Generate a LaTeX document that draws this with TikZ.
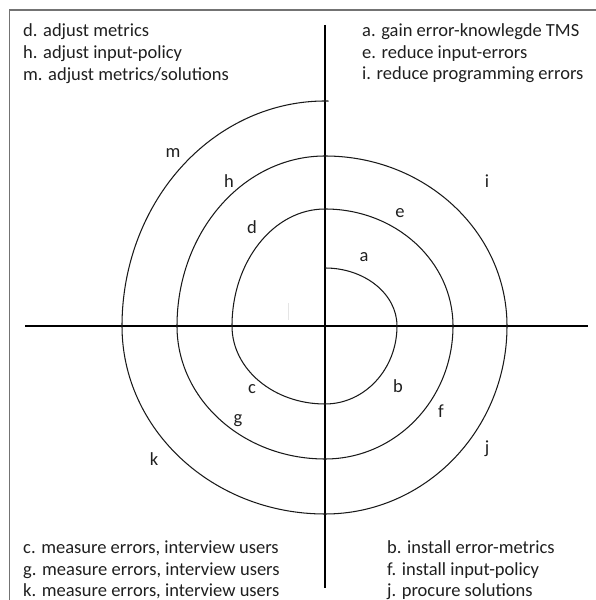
\documentclass[tikz,border=0pt]{standalone}
\usepackage{fontspec}
\setmainfont{Carlito}
\begin{document}
\begin{tikzpicture}[x=1pt,y=1pt,
  legend/.style={anchor=base west,inner sep=0pt,font=\fontsize{18.5}{21.5}\selectfont,text=black!88},
  tag/.style={anchor=base,inner sep=0pt,font=\fontsize{18.5}{21.5}\selectfont,text=black!88},
  axis/.style={line width=1.3pt,black},
  spiralline/.style={line width=1.05pt,black!90},
  frameline/.style={line width=1.2pt,black!55}]
\useasboundingbox (0,0) rectangle (595,600);
% outer frame (runs off the right and bottom edges)
\draw[frameline] (9.5,-5) -- (9.5,590) -- (600,590);
% axes
\coordinate (top) at (325,575);
\coordinate (bottom) at (325,12);
\coordinate (left) at (25,274);
\coordinate (right) at (588,274);
\coordinate (origin) at (325,274);
\draw[axis] (top) -- (bottom);
\draw[axis] (left) -- (right);
% faint stroke left of the origin
\draw[line width=1pt,black!10] (288,297) -- (288,280);
% spiral, built from quarter ellipses around the origin
\begin{scope}[shift={(origin)}]
\draw[spiralline] (0,58)
  arc[start angle=90,end angle=0,x radius=72,y radius=58]
  arc[start angle=0,end angle=-90,x radius=72,y radius=78]
  arc[start angle=-90,end angle=-180,x radius=93,y radius=78]
  arc[start angle=180,end angle=90,x radius=93,y radius=117]
  arc[start angle=90,end angle=0,x radius=128,y radius=117]
  arc[start angle=0,end angle=-90,x radius=128,y radius=133]
  arc[start angle=-90,end angle=-180,x radius=148,y radius=133]
  arc[start angle=180,end angle=90,x radius=148,y radius=170]
  arc[start angle=90,end angle=0,x radius=182,y radius=170]
  arc[start angle=0,end angle=-90,x radius=182,y radius=188]
  arc[start angle=-90,end angle=-180,x radius=203,y radius=188]
  arc[start angle=180,end angle=89,x radius=203,y radius=225];
\end{scope}
% spiral labels
\node[tag] (la) at (364,338) {a};
\node[tag] (lb) at (398,207) {b};
\node[tag] (lc) at (252,206) {c};
\node[tag] (ld) at (252,366) {d};
\node[tag] (le) at (400,382) {e};
\node[tag] (lf) at (441,182) {f};
\node[tag] (lg) at (238,176) {g};
\node[tag] (lh) at (229,412) {h};
\node[tag] (li) at (487,412) {i};
\node[tag] (lj) at (487,146) {j};
\node[tag] (lk) at (154,134) {k};
\node[tag] (lm) at (173,442) {m};
% legends
\node[legend] (tl1) at (23,563) {d. adjust metrics};
\node[legend] (tl2) at (23,541) {h. adjust input-policy};
\node[legend] (tl3) at (23,519) {m. adjust metrics/solutions};
\node[legend] (tr1) at (362,563) {a. gain error-knowlegde TMS};
\node[legend] (tr2) at (362,541.5) {e. reduce input-errors};
\node[legend] (tr3) at (362,520) {i. reduce programming errors};
\node[legend] (bl1) at (23,46) {c. measure errors, interview users};
\node[legend] (bl2) at (23,24.5) {g. measure errors, interview users};
\node[legend] (bl3) at (23,3) {k. measure errors, interview users};
\node[legend] (br1) at (387,46) {b. install error-metrics};
\node[legend] (br2) at (387,24.5) {f. install input-policy};
\node[legend] (br3) at (387,3) {j. procure solutions};
\end{tikzpicture}
\end{document}
